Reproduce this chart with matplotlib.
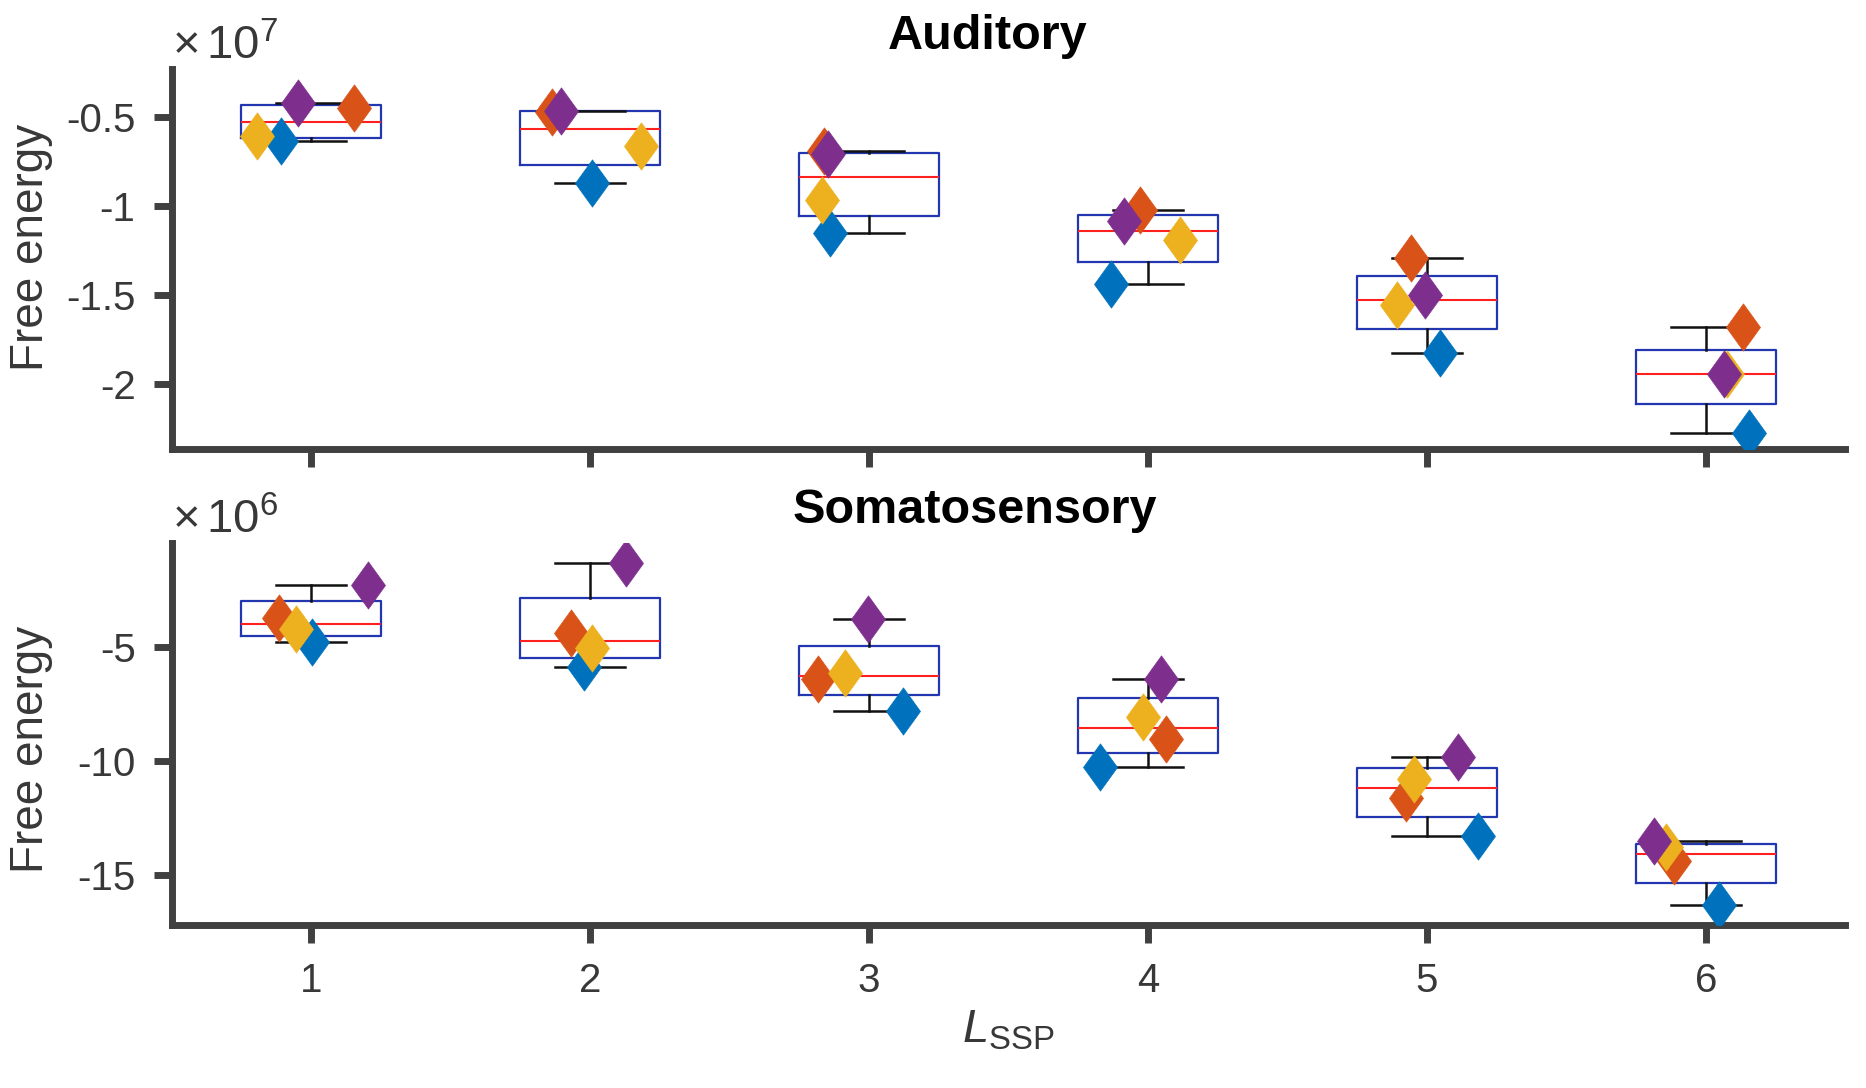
import numpy as np
import matplotlib
matplotlib.use('Agg')
import matplotlib.pyplot as plt
from matplotlib.path import Path
from matplotlib.ticker import FuncFormatter

# L_SSP groups
groups = [1, 2, 3, 4, 5, 6]
series_names = ['blue', 'orange', 'yellow', 'purple']
colors = ['#0072BD', '#D95319', '#EDB120', '#7E2F8E']

# Auditory free energy (x 1e7), one list per series, one value per group
aud_scale = 1e7
aud_vals = {
    'blue':   [-0.637, -0.876, -1.154, -1.440, -1.827, -2.276],
    'orange': [-0.449, -0.472, -0.694, -1.023, -1.295, -1.684],
    'yellow': [-0.609, -0.665, -0.966, -1.195, -1.558, -1.944],
    'purple': [-0.425, -0.468, -0.712, -1.088, -1.502, -1.949],
}
# jittered x positions of the points
aud_x = {
    'blue':   [0.893, 2.005, 2.861, 3.866, 5.048, 6.155],
    'orange': [1.155, 1.864, 2.840, 3.971, 4.944, 6.134],
    'yellow': [0.806, 2.181, 2.832, 4.115, 4.893, 6.075],
    'purple': [0.952, 1.896, 2.853, 3.912, 4.992, 6.064],
}

# Somatosensory free energy (x 1e6)
som_scale = 1e6
som_vals = {
    'blue':   [-4.776, -5.862, -7.810, -10.259, -13.30, -16.328],
    'orange': [-3.707, -4.362, -6.379, -9.017, -11.60, -14.397],
    'yellow': [-4.190, -5.034, -6.121, -8.069, -10.80, -13.793],
    'purple': [-2.241, -1.293, -3.759, -6.379, -9.80, -13.534],
}
som_x = {
    'blue':   [1.003, 1.979, 3.123, 3.829, 5.184, 6.045],
    'orange': [0.886, 1.933, 2.818, 4.064, 4.925, 5.885],
    'yellow': [0.947, 2.008, 2.912, 3.981, 4.952, 5.858],
    'purple': [1.204, 2.128, 2.997, 4.045, 5.112, 5.813],
}

plt.rcParams['font.family'] = ['Liberation Sans', 'DejaVu Sans']
plt.rcParams['mathtext.fontset'] = 'custom'
plt.rcParams['mathtext.rm'] = 'Liberation Sans'
plt.rcParams['mathtext.it'] = 'Liberation Sans:italic'

spine_col = '#404040'
text_col = '#383838'

# tall diamond like the original
diamond = Path([(0, 1), (0.72, 0), (0, -1), (-0.72, 0), (0, 1)],
               [Path.MOVETO, Path.LINETO, Path.LINETO, Path.LINETO, Path.CLOSEPOLY])


def matlab_stats(vals):
    # MATLAB-style quartiles (hazen) and whiskers
    stats = []
    for v in vals:
        v = np.asarray(v)
        q1, med, q3 = np.percentile(v, [25, 50, 75], method='hazen')
        iqr = q3 - q1
        lo = v[v >= q1 - 1.5 * iqr].min()
        hi = v[v <= q3 + 1.5 * iqr].max()
        stats.append(dict(med=med, q1=q1, q3=q3, whislo=lo, whishi=hi, fliers=[]))
    return stats


def panel(ax, vals, xs, scale, title, title_x, yticks, ylim, exp, label_y):
    per_group = [[vals[s][i] * scale for s in series_names] for i in range(len(groups))]
    stats = matlab_stats(per_group)
    ax.bxp(stats, positions=groups, widths=0.5, showfliers=False,
           boxprops=dict(color='#2236b0', lw=1.6),
           medianprops=dict(color='#ff2020', lw=1.5),
           whiskerprops=dict(color='#111111', lw=1.8),
           capprops=dict(color='#111111', lw=1.8), capwidths=0.25)
    for s, c in zip(series_names, colors):
        ax.plot(xs[s], np.array(vals[s]) * scale, ls='none', marker=diamond,
                ms=34, mfc=c, mec=c, mew=0.5, zorder=5)
    ax.set_title(title, fontsize=35, fontweight='bold', color='black', pad=14, x=title_x)
    ax.set_xlim(0.5, 6.5)
    ax.set_ylim(ylim[0] * scale, ylim[1] * scale)
    ax.set_yticks([t * scale for t in yticks])
    ax.yaxis.set_major_formatter(FuncFormatter(lambda v, _: f'{v / scale:g}'))
    ax.set_xticks(groups)
    ax.set_ylabel('Free energy', fontsize=33, color=text_col)
    ax.yaxis.set_label_coords(-0.071, label_y)
    for side in ['top', 'right']:
        ax.spines[side].set_visible(False)
    for side in ['left', 'bottom']:
        ax.spines[side].set_linewidth(5)
        ax.spines[side].set_color(spine_col)
    ax.tick_params(direction='out', length=13, width=5, color=spine_col,
                   labelsize=29, labelcolor=text_col)
    ax.tick_params(axis='y', pad=13)
    ax.tick_params(axis='x', pad=14)
    ax.text(0.0, 1.025, r'$\times\,10^{%d}$' % exp, transform=ax.transAxes,
            fontsize=34, color=text_col, ha='left', va='baseline')


fig = plt.figure(figsize=(18.66, 10.88), dpi=100)
ax1 = fig.add_axes([0.092, 0.587, 0.897, 0.350])
ax2 = fig.add_axes([0.092, 0.150, 0.897, 0.351])

panel(ax1, aud_vals, aud_x, aud_scale, 'Auditory', 0.4875,
      [-2, -1.5, -1, -0.5], (-2.37, -0.23), 7, 0.53)
panel(ax2, som_vals, som_x, som_scale, 'Somatosensory', 0.48,
      [-15, -10, -5], (-17.2, -0.4), 6, 0.46)
ax1.tick_params(labelbottom=False)
ax2.set_xlabel(r'$L_{\mathrm{SSP}}$', fontsize=34, color=text_col, labelpad=6)

fig.savefig('out.png', dpi=100)
